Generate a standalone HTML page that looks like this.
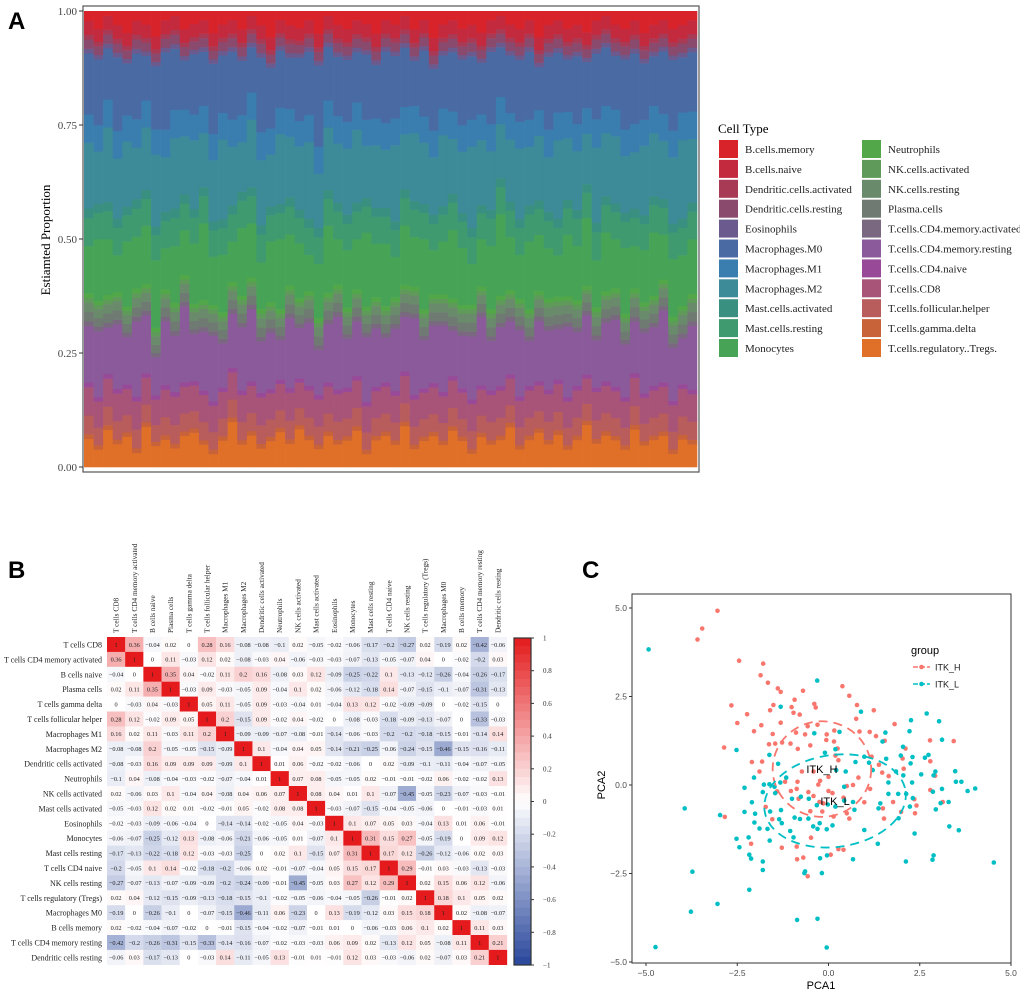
<!DOCTYPE html>
<html><head><meta charset="utf-8"><style>
html,body{margin:0;padding:0;background:#fff;}
svg{display:block;}
.serif{font-family:"Liberation Serif",serif;}
.sans{font-family:"Liberation Sans",sans-serif;}
</style></head><body>
<svg id="fig" width="1020" height="991" viewBox="0 0 1020 991" xmlns="http://www.w3.org/2000/svg">
<text x="8" y="29" class="sans" font-size="24" font-weight="bold">A</text>
<text x="8" y="578" class="sans" font-size="24" font-weight="bold">B</text>
<text x="582" y="578" class="sans" font-size="24" font-weight="bold">C</text>
<g id="pa"></g>
<g id="pb"></g>
<g id="pc"></g>
</svg>
<script>
// ---------- Panel A data ----------
const cellTypes=["B.cells.memory","B.cells.naive","Dendritic.cells.activated","Dendritic.cells.resting","Eosinophils","Macrophages.M0","Macrophages.M1","Macrophages.M2","Mast.cells.activated","Mast.cells.resting","Monocytes","Neutrophils","NK.cells.activated","NK.cells.resting","Plasma.cells","T.cells.CD4.memory.activated","T.cells.CD4.memory.resting","T.cells.CD4.naive","T.cells.CD8","T.cells.follicular.helper","T.cells.gamma.delta","T.cells.regulatory..Tregs."];
const cellColors=["#d8232a","#c42a3e","#a83a55","#8a4a6e","#6a5a8e","#4a6aa4","#3a7eb0","#3d8a98","#3a9080","#3f9a70","#47a456","#52a848","#5f9a5a","#6a8a6c","#6f7a72","#7a6880","#8a5a9a","#984a98","#a85478","#b85c5c","#c86238","#e07028"];
const meanProps=[0.02,0.03,0.01,0.02,0.01,0.14,0.06,0.14,0.02,0.06,0.12,0.01,0.01,0.02,0.02,0.01,0.13,0.01,0.06,0.04,0.01,0.05];
const tregsVals=[.06,.04,.08,.05,.07,.03,.09,.05,.06,.04,.07,.08,.05,.03,.06,.10,.05,.07,.04,.06,.08,.05,.09,.06,.04,.07,.05,.06,.08,.03,.06,.07,.05,.09,.04,.06,.07,.05,.08,.06,.03,.07,.05,.06,.09,.04,.06,.08,.05,.07,.04,.06,.10,.05,.07,.06,.04,.08,.05,.06,.07,.03,.06,.05];
const cd4restVals=[.12,.15,.10,.14,.11,.16,.13,.09,.14,.12,.17,.11,.13,.15,.10,.12,.14,.16,.11,.13,.09,.15,.12,.14,.10,.13,.16,.11,.12,.15,.13,.10,.14,.12,.17,.11,.13,.15,.10,.12,.14,.16,.11,.13,.12,.15,.10,.14,.13,.11,.16,.12,.14,.10,.13,.15,.12,.11,.14,.13,.16,.12,.10,.14];
const monoVals=[.10,.14,.12,.08,.15,.11,.13,.16,.09,.12,.10,.14,.17,.11,.13,.09,.15,.12,.10,.14,.16,.11,.13,.08,.12,.15,.10,.13,.11,.17,.12,.14,.09,.13,.11,.16,.10,.12,.15,.13,.09,.11,.14,.18,.12,.10,.15,.13,.11,.09,.14,.12,.16,.10,.13,.11,.15,.09,.12,.14,.10,.13,.11,.12];
const m2Vals=[.14,.12,.16,.13,.15,.11,.14,.17,.12,.15,.13,.16,.12,.14,.18,.13,.11,.15,.14,.12,.16,.13,.15,.17,.12,.14,.13,.15,.16,.12,.14,.13,.17,.12,.15,.14,.13,.16,.12,.14,.18,.15,.13,.12,.14,.16,.13,.15,.12,.17,.14,.13,.12,.16,.14,.15,.13,.12,.16,.14,.13,.15,.17,.14];
const m0Vals=[.13,.15,.11,.16,.12,.14,.10,.15,.17,.13,.11,.14,.12,.16,.13,.15,.12,.10,.16,.14,.13,.11,.15,.14,.18,.12,.13,.14,.11,.15,.12,.16,.14,.13,.10,.15,.14,.12,.13,.15,.14,.12,.16,.11,.13,.14,.15,.10,.16,.13,.12,.15,.11,.14,.13,.12,.16,.15,.13,.11,.14,.16,.12,.13];
const bmemVals=[.02,.04,.01,.03,.05,.02,.03,.06,.02,.01,.04,.03,.02,.05,.03,.02,.04,.01,.03,.06,.02,.03,.04,.02,.05,.01,.03,.04,.02,.03,.05,.02,.03,.01,.04,.02,.06,.03,.02,.04,.03,.05,.02,.01,.03,.04,.02,.06,.03,.02,.04,.03,.05,.02,.01,.03,.04,.02,.05,.03,.02,.04,.03,.02];
const yTicksA=["0.00","0.25","0.50","0.75","1.00"];

// ---------- Panel B data ----------
const corrLabels=["T cells CD8","T cells CD4 memory activated","B cells naive","Plasma cells","T cells gamma delta","T cells follicular helper","Macrophages M1","Macrophages M2","Dendritic cells activated","Neutrophils","NK cells activated","Mast cells activated","Eosinophils","Monocytes","Mast cells resting","T cells CD4 naive","NK cells resting","T cells regulatory (Tregs)","Macrophages M0","B cells memory","T cells CD4 memory resting","Dendritic cells resting"];
const corrUpper=[
[1,.36,-.04,.02,0,.28,.16,-.08,-.08,-.1,.02,-.05,-.02,-.06,-.17,-.2,-.27,.02,-.19,.02,-.42,-.06],
[1,0,.11,-.03,.12,.02,-.08,-.03,.04,-.06,-.03,-.03,-.07,-.13,-.05,-.07,.04,0,-.02,-.2,.03],
[1,.35,.04,-.02,.11,.2,.16,-.08,.03,.12,-.09,-.25,-.22,.1,-.13,-.12,-.26,-.04,-.26,-.17],
[1,-.03,.09,-.03,-.05,.09,-.04,.1,.02,-.06,-.12,-.18,.14,-.07,-.15,-.1,-.07,-.31,-.13],
[1,.05,.11,-.05,.09,-.03,-.04,.01,-.04,.13,.12,-.02,-.09,-.09,0,-.02,-.15,0],
[1,.2,-.15,.09,-.02,.04,-.02,0,-.08,-.03,-.18,-.09,-.13,-.07,0,-.33,-.03],
[1,-.09,-.09,-.07,-.08,-.01,-.14,-.06,-.03,-.2,-.2,-.18,-.15,-.01,-.14,.14],
[1,.1,-.04,.04,.05,-.14,-.21,-.25,-.06,-.24,-.15,-.46,-.15,-.16,-.11],
[1,.01,.06,-.02,-.02,-.06,0,.02,-.09,-.1,-.11,-.04,-.07,-.05],
[1,.07,.08,-.05,-.05,.02,-.01,-.01,-.02,.06,-.02,-.02,.13],
[1,.08,.04,.01,.1,-.07,-.45,-.05,-.23,-.07,-.03,-.01],
[1,-.03,-.07,-.15,-.04,-.05,-.06,0,-.01,-.03,.01],
[1,.1,.07,.05,.03,-.04,.13,.01,.06,-.01],
[1,.31,.15,.27,-.05,-.19,0,.09,.12],
[1,.17,.12,-.26,-.12,-.06,.02,.03],
[1,.29,-.01,.03,-.03,-.13,-.03],
[1,.02,.15,.06,.12,-.06],
[1,.18,.1,.05,.02],
[1,.02,-.08,-.07],
[1,.11,.03],
[1,.21],
[1]];
const cbarTicks=[1,0.8,0.6,0.4,0.2,0,-0.2,-0.4,-0.6,-0.8,-1];

// ---------- Panel C data ----------
const hX=[-3.04,-3.46,-3.59,-2.45,-1.79,-1.86,-1.66,-1.39,-1.31,-0.70,0.38,0.57,-2.66,-2.23,-2.50,-1.84,-2.04,-1.51,-1.60,-0.93,-1.01,-0.39,-0.35,0.78,1.24,0.76,0.85,-0.96,-0.79,-1.31,-2.86,-2.10,-1.82,-1.89,-1.53,-1.27,-1.63,-1.46,-1.04,-0.89,-0.64,-0.57,-0.30,-0.05,0.16,-0.84,-0.50,-0.06,0.15,0.25,0.19,0.27,1.13,1.30,1.81,1.54,1.18,1.38,1.47,1.65,2.03,2.11,2.06,2.78,3.43,2.79,2.92,2.79,3.13,2.35,2.41,2.37,1.77,1.49,1.52,1.99,1.14,0.98,0.82,0.67,0.50,0.41,0.50,0.57,0.41,0.27,0.06,-0.87,-0.69,-0.86,-0.57,-1.28,-2.12,-2.84,-1.72,-1.54,-1.41,-1.19,-1.03,-0.82,-0.87,-0.55,-0.41,-0.25,-0.14,0.00,0.11,-0.23,0.00,-0.41,-0.73,-0.85,-0.17,0.14,-0.28,-0.50,-0.48];
const hY=[4.92,4.42,4.11,3.51,3.43,3.10,2.89,2.73,2.63,2.66,2.79,2.52,2.25,2.00,1.75,1.69,1.52,2.26,2.11,2.41,2.20,2.29,2.19,2.26,2.11,1.87,1.51,2.04,1.99,1.76,1.06,0.65,0.66,0.38,1.44,1.20,1.15,1.17,1.17,1.48,1.43,1.66,1.70,1.43,1.54,1.02,1.12,1.27,1.23,1.03,0.83,0.70,1.50,1.38,1.72,1.25,0.80,0.57,0.35,0.25,0.75,1.03,0.46,1.26,1.24,0.67,0.26,-0.14,-0.48,-0.40,-0.58,-0.80,-0.48,-0.66,-0.95,-0.76,-0.11,-0.49,0.21,0.00,-0.03,-0.36,-0.80,-0.95,-1.83,-1.81,-1.97,-1.74,-2.05,-2.10,-2.58,-1.77,-1.66,-0.90,-0.62,-0.97,-0.18,0.09,-0.17,-0.39,-0.11,-0.20,-0.31,-0.48,-0.52,-0.17,-0.23,0.12,0.23,0.38,0.38,0.09,-0.75,-0.89,0.01,-0.74,-1.49];
const lX=[-4.93,-0.31,-1.31,0.89,0.30,-0.39,0.19,-0.10,-2.52,-1.62,-1.38,-2.04,-2.30,-1.77,-1.62,-1.48,-1.46,-1.80,-1.16,-1.32,-2.10,-2.30,-2.01,-2.03,-1.89,-1.67,-1.60,-1.30,-1.35,-1.28,-0.93,-0.78,-0.55,-1.05,-0.96,-0.42,-0.30,-0.05,0.11,-0.24,-1.00,-0.76,-0.54,-0.32,-0.02,0.19,0.43,0.67,0.71,0.43,0.47,0.21,0.74,0.98,1.11,1.21,1.58,1.56,1.48,2.04,1.98,2.26,2.22,1.85,2.05,1.64,2.25,2.30,2.29,1.64,1.91,2.13,2.31,2.23,1.92,1.37,1.42,0.98,1.35,2.36,2.69,3.03,3.11,2.74,2.64,2.54,2.88,2.93,3.11,2.86,2.94,3.07,3.29,3.47,3.49,3.64,3.81,4.02,3.31,3.57,2.88,2.85,2.12,4.53,0.67,-0.04,-0.23,-0.18,-0.64,-0.66,-1.61,-1.80,-1.80,-2.17,-2.12,-2.17,-2.44,-2.52,-2.19,-2.97,-3.94,-3.73,-3.77,-3.04,-4.74,-0.86,-0.30,-0.05];
const lY=[3.83,2.95,2.21,2.07,1.50,1.46,1.01,0.91,0.99,0.85,0.60,0.21,-0.08,0.01,0.02,-0.05,-0.23,-0.20,0.21,0.07,-0.49,-0.76,-0.81,-1.06,-1.23,-1.24,-0.75,-0.71,-0.97,-1.08,-0.92,-0.96,-0.95,-1.30,-1.48,-1.17,-1.24,-1.25,-1.14,-1.08,-0.39,-0.33,-0.39,-0.57,-0.55,-0.61,-0.44,-0.48,-0.70,-0.05,0.38,0.42,0.65,0.80,0.63,0.42,0.74,1.48,1.23,1.08,0.83,1.83,1.52,0.38,0.27,0.07,0.61,0.79,0.07,-0.25,-0.25,-0.25,-0.37,-0.61,-0.94,-0.66,-0.52,-1.27,-1.66,-1.37,2.02,1.80,1.28,0.85,0.77,0.30,0.27,0.38,-0.11,-0.19,-0.69,-0.51,-0.48,0.39,0.09,0.09,-0.17,-0.10,-1.17,-1.28,-1.99,-2.11,-2.16,-2.19,-2.10,-1.99,-2.07,-2.49,-2.44,-2.49,-1.57,-2.16,-2.40,-1.97,-2.08,-2.96,-1.76,-1.52,-1.48,-0.85,-0.66,-2.45,-3.58,-3.36,-4.58,-3.81,-3.78,-4.59];
const groups=["ITK_H","ITK_L"];
const ellipseCenters=[[-0.18,0.45],[0.18,-0.45]];
const ellipseRadii=[[1.35,1.35],[1.95,1.3]];
const pcaTicks=[-5,-2.5,0,2.5,5];
const pcaTickLabels=["-5.0","-2.5","0.0","2.5","5.0"];

const NS="http://www.w3.org/2000/svg";
function mk(tag,attrs,parent){const e=document.createElementNS(NS,tag);for(const k in attrs)e.setAttribute(k,attrs[k]);parent.appendChild(e);return e;}

// ---------- Panel A ----------
(function(){
const g=document.getElementById('pa');
const L=84,R=697,T=11,B=467;
const yA=v=>B-(B-T)*v;
const n=tregsVals.length, bw=(R-L)/n;
const idx={bmem:0,m0:5,m2:7,mono:10,cd4rest:16,tregs:21};
for(let s=0;s<n;s++){
  const vals=meanProps.slice();
  vals[idx.bmem]=bmemVals[s];vals[idx.m0]=m0Vals[s];vals[idx.m2]=m2Vals[s];
  vals[idx.mono]=monoVals[s];vals[idx.cd4rest]=cd4restVals[s];vals[idx.tregs]=tregsVals[s];
  const tot=vals.reduce((a,b)=>a+b,0);
  let cum=0;
  for(let k=cellTypes.length-1;k>=0;k--){
    const v=vals[k]/tot;
    const r=mk('rect',{x:(L+s*bw).toFixed(2),y:yA(cum+v).toFixed(2),width:(bw+0.3).toFixed(2),height:((B-T)*v+0.3).toFixed(2),fill:cellColors[k]},g);
    
    
    cum+=v;
  }
}
const fr=mk('rect',{x:83,y:6,width:616,height:466,fill:'none',stroke:'#555','stroke-width':1.2},g);

yTicksA.forEach((t,i)=>{
  const y=yA(i/4);
  mk('line',{x1:79,x2:83,y1:y,y2:y,stroke:'#333'},g);
  const tx=mk('text',{x:77,y:y+4,'text-anchor':'end','font-size':11,fill:'#444',class:'serif'},g);
  tx.textContent=t;
  
});
const yt=mk('text',{x:0,y:0,transform:'translate(50,240) rotate(-90)','text-anchor':'middle','font-size':13,class:'serif'},g);
yt.textContent='Estiamted Proportion';

const lt=mk('text',{x:718,y:133,'font-size':13,class:'serif'},g);
lt.textContent='Cell Type';

cellTypes.forEach((c,i)=>{
  const col=i<11?0:1, row=i%11;
  const x=col?862:719, y=140+row*19.9;
  const sw=mk('rect',{x:x,y:y,width:19,height:18,fill:cellColors[i]},g);
  
  const t=mk('text',{x:x+26,y:y+13,'font-size':11,class:'serif',fill:'#222'},g);
  t.textContent=c;
  
});
})();

// ---------- Panel B ----------
(function(){
const g=document.getElementById('pb');
const L=107,T=637,cw=18.18,ch=14.9,n=corrLabels.length;
function corr(i,j){return i<=j?corrUpper[i][j-i]:corrUpper[j][i-j];}
function color(v){
  const t=Math.min(1,Math.abs(v));
  const c=v>=0?[228,26,28]:[40,70,155];
  const m=a=>Math.round(255+(a-255)*t);
  return 'rgb('+m(c[0])+','+m(c[1])+','+m(c[2])+')';
}
function fmt(v){
  if(v===1) return '1';
  if(v===0) return '0';
  const s=String(Math.abs(v));
  return (v<0?'\u2212':'')+s;
}
for(let i=0;i<n;i++)for(let j=0;j<n;j++){
  const v=corr(i,j);
  const r=mk('rect',{x:(L+j*cw).toFixed(2),y:(T+i*ch).toFixed(2),width:cw+0.2,height:ch+0.2,fill:color(v)},g);
  
  const t=mk('text',{x:(L+j*cw+cw/2).toFixed(2),y:(T+i*ch+ch/2+2.3).toFixed(2),'text-anchor':'middle','font-size':6.3,class:'serif',fill:'#222'},g);
  t.textContent=fmt(v);
  
}
corrLabels.forEach((lab,i)=>{
  const t=mk('text',{x:102,y:(T+i*ch+ch/2+3).toFixed(2),'text-anchor':'end','font-size':8,class:'serif',fill:'#222'},g);
  t.textContent=lab;
  
  const cx=L+i*cw+cw/2+2.5;
  const c=mk('text',{x:0,y:0,transform:'translate('+cx.toFixed(2)+',633) rotate(-90)','font-size':7.3,class:'serif',fill:'#222'},g);
  c.textContent=lab;
  
});
// colorbar
const cbT=638,cbB=965,cbL=514,cbW=17,steps=40;
for(let s=0;s<steps;s++){
  const v=1-(s+0.5)*2/steps;
  const r=mk('rect',{x:cbL,y:(cbT+s*(cbB-cbT)/steps).toFixed(2),width:cbW,height:((cbB-cbT)/steps+0.3).toFixed(2),fill:color(v)},g);
  
}
mk('rect',{x:cbL,y:cbT,width:cbW,height:cbB-cbT,fill:'none',stroke:'#333','stroke-width':1.2},g);
cbarTicks.forEach(v=>{
  const y=cbT+(1-v)/2*(cbB-cbT);
  mk('line',{x1:cbL+cbW,x2:cbL+cbW+3,y1:y,y2:y,stroke:'#333'},g);
  const t=mk('text',{x:543,y:y+2.5,'font-size':7,class:'serif',fill:'#333'},g);
  t.textContent=(v===1?'1':v===-1?'\u22121':v===0?'0':(v<0?'\u2212':'')+Math.abs(v).toFixed(1));
  
});
})();

// ---------- Panel C ----------
(function(){
const g=document.getElementById('pc');
const sx=v=>828.5+36.5*v, sy=v=>785-35.4*v;
const cols=['#F8766D','#00BFC4'];
const fr=mk('rect',{x:632,y:594,width:379,height:369,fill:'#fff',stroke:'#333','stroke-width':1},g);

[[hX,hY],[lX,lY]].forEach((d,gi)=>{
  d[0].forEach((x,i)=>{
    const c=mk('circle',{cx:sx(x).toFixed(1),cy:sy(d[1][i]).toFixed(1),r:2.3,fill:cols[gi]},g);
    
  });
});
ellipseCenters.forEach((c,gi)=>{
  const e=mk('ellipse',{cx:sx(c[0]),cy:sy(c[1]),rx:36.5*ellipseRadii[gi][0],ry:35.4*ellipseRadii[gi][1],fill:'none',stroke:cols[gi],'stroke-width':1.8,'stroke-dasharray':'9,6',transform:gi?'rotate(-8 '+sx(c[0])+' '+sy(c[1])+')':''},g);
  
  const t=mk('text',{x:sx(c[0]),y:sy(c[1])+4,'text-anchor':'middle','font-size':11,class:'sans'},g);
  t.textContent=groups[gi];
  
});
pcaTicks.forEach((v,i)=>{
  const x=sx(v);
  mk('line',{x1:x,x2:x,y1:963,y2:966,stroke:'#333'},g);
  const t=mk('text',{x:x,y:976,'text-anchor':'middle','font-size':8.5,class:'sans',fill:'#4d4d4d'},g);
  t.textContent=pcaTickLabels[i].replace('-','\u2212');
  
  const y=sy(v);
  mk('line',{x1:629,x2:632,y1:y,y2:y,stroke:'#333'},g);
  const u=mk('text',{x:627,y:y+3,'text-anchor':'end','font-size':8.5,class:'sans',fill:'#4d4d4d'},g);
  u.textContent=pcaTickLabels[i].replace('-','\u2212');
  
});
const xt=mk('text',{x:821,y:989,'text-anchor':'middle','font-size':11,class:'sans'},g);
xt.textContent='PCA1';
const ytt=mk('text',{x:0,y:0,transform:'translate(605,785) rotate(-90)','text-anchor':'middle','font-size':11,class:'sans'},g);
ytt.textContent='PCA2';
const lg=mk('text',{x:911,y:654,'font-size':11,class:'sans'},g);
lg.textContent='group';
groups.forEach((gr,i)=>{
  const y=667+i*17;
  mk('line',{x1:913,x2:930,y1:y,y2:y,stroke:cols[i],'stroke-width':1.6,'stroke-dasharray':'5,2'},g);
  mk('circle',{cx:921.5,cy:y,r:2.3,fill:cols[i]},g);
  const t=mk('text',{x:935,y:y+3.5,'font-size':9,class:'sans',fill:'#222'},g);
  t.textContent=gr;
});
})();
</script>
</body></html>
